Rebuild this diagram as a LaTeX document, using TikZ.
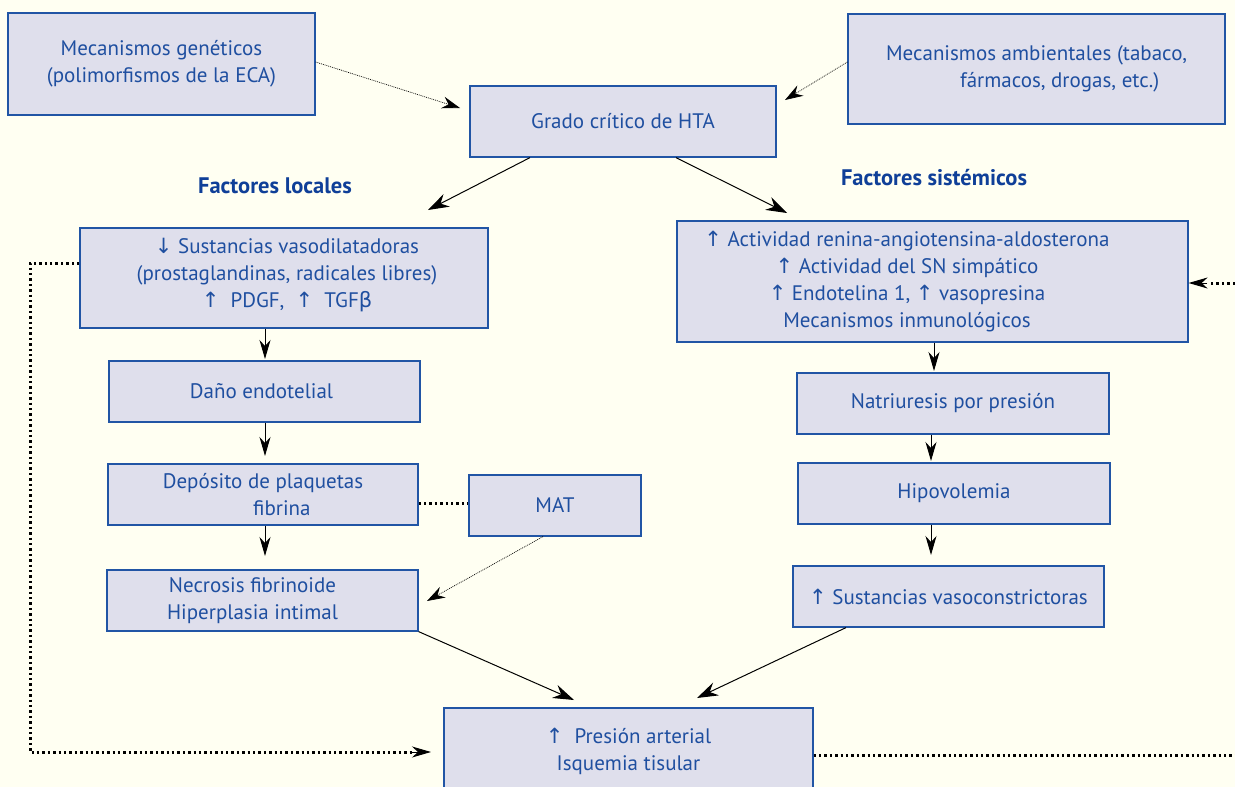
\documentclass[tikz,border=0pt]{standalone}
\usepackage{fontspec}
\setmainfont{PT Sans}
\newfontfamily\symf{DejaVu Sans}
\usetikzlibrary{arrows.meta}
\definecolor{bgc}{HTML}{FFFFF2}
\definecolor{boxfill}{HTML}{DFDFEC}
\definecolor{boxline}{HTML}{2155A5}
\definecolor{txt}{HTML}{1F4FA0}
\definecolor{head}{HTML}{0F3F98}
\newcommand{\UP}{{\symf\char"2191}}
\newcommand{\DN}{{\symf\char"2193}}
\newcommand{\BETA}{{\symf β}}
\newcommand{\sh}[1]{\hspace*{#1}}
\begin{document}
\begin{tikzpicture}[x=1pt,y=-1pt,
  box/.style={draw=boxline,fill=boxfill,line width=1.2pt,text=txt,align=center,inner sep=0pt,font=\fontsize{21}{27}\selectfont},
  btext/.style={text=txt,align=center,inner sep=0pt,font=\fontsize{21}{27}\selectfont},
  head/.style={text=head,font=\fontsize{22.5}{26}\selectfont\bfseries},
  arr/.style={-{Stealth[length=21pt,width=14pt,inset=7pt]},line width=1pt,black},
  sarr/.style={-{Stealth[length=19pt,width=11pt,inset=6pt]},line width=1pt,black},
  fdot/.style={-{Stealth[length=18pt,width=12pt,inset=6pt]},line width=0.7pt,dash pattern=on 0.9pt off 1pt,black},
  tdot/.style={line width=3pt,dash pattern=on 2.4pt off 3pt,black},
]
\useasboundingbox[fill=bgc] (0,0) rectangle (1235,787);
% boxes
\node[box,minimum width=307,minimum height=102] (gen) at (161.5,64) {Mecanismos genéticos\\(polimorfismos de la ECA)};
\node[box,minimum width=377,minimum height=110] (amb) at (1036.5,69) {Mecanismos ambientales (tabaco,\\\sh{2.2em}fármacos, drogas, etc.)};
\node[box,minimum width=306,minimum height=71] (hta) at (623,121.5) {Grado crítico de HTA};
\node[head] (hl) at (275,186) {Factores locales};
\node[head] (hs) at (934,178) {Factores sistémicos};
\node[box,minimum width=408,minimum height=100] (vaso) at (284,278) {};
\node[btext] (vasot) at (287,275) {\DN\ Sustancias vasodilatadoras\\(prostaglandinas, radicales libres)\\\UP\ \ PDGF,\ \ \UP\ \ TGF\BETA};
\node[box,minimum width=511,minimum height=121] (sis) at (932.5,281.5) {};
\node[btext] (sist) at (907,281.5) {\UP\ Actividad renina-angiotensina-aldosterona\\\UP\ Actividad del SN simpático\\\UP\ Endotelina 1, \UP\ vasopresina\\Mecanismos inmunológicos};
\node[box,minimum width=311,minimum height=61] (dano) at (264.5,391.5) {Daño endotelial\sh{6pt}};
\node[box,minimum width=312,minimum height=61] (natr) at (953,403.5) {Natriuresis por presión};
\node[box,minimum width=310,minimum height=61] (dep) at (263,494.5) {Depósito de plaquetas\\\sh{1.8em}fibrina};
\node[box,minimum width=172,minimum height=61] (mat) at (555,505.5) {MAT};
\node[box,minimum width=312,minimum height=61] (hipo) at (954,493.5) {Hipovolemia};
\node[box,minimum width=311,minimum height=61] (necr) at (262.5,600.5) {};
\node[btext] (necrt) at (252.5,600.5) {Necrosis fibrinoide\\Hiperplasia intimal};
\node[box,minimum width=311,minimum height=61] (vcon) at (948.5,596.5) {\UP\ Sustancias vasoconstrictoras};
\node[box,minimum width=369,minimum height=90] (pres) at (628.5,753) {};
\node[btext] (prest) at (628.5,751) {\UP\ \ Presión arterial\\Isquemia tisular};
% connectors
\draw[fdot] (gen.east |- 0,62) -- (460,108);
\draw[fdot] (amb.west |- 0,62) -- (785,100);
\draw[arr] (hta.south -| 530,0) -- (428,210);
\draw[arr] (hta.south -| 676,0) -- (787,213);
\draw[sarr] (vaso.south -| 265,0) -- (265,359);
\draw[sarr] (dano.south -| 265,0) -- (265,456);
\draw[sarr] (dep.south -| 265,0) -- (265,556);
\draw[tdot] (dep.east |- 0,503) -- (mat.west |- 0,503);
\draw[fdot] (mat.south -| 543,0) -- (427,601);
\draw[arr] (necr.south east) -- (574,700);
\draw[arr] (vcon.south -| 846,0) -- (697,698);
\draw[sarr] (sis.south -| 934,0) -- (934,371);
\draw[sarr] (natr.south -| 931,0) -- (931,461);
\draw[sarr] (hipo.south -| 931,0) -- (931,555);
\coordinate (l1) at (30,263);
\coordinate (l2) at (30,752);
\draw[tdot] (vaso.west |- l1) -- (l1) -- (l2) -- (414,752);
\draw[sarr] (412,752) -- (431,752);
\coordinate (r1) at (1235,755);
\coordinate (r2) at (1235,283);
\draw[tdot] (pres.east |- r1) -- (r1);
\draw[tdot] (r2) -- (1209,283);
\draw[sarr] (1207,283) -- (sis.east |- r2);
\end{tikzpicture}
\end{document}
